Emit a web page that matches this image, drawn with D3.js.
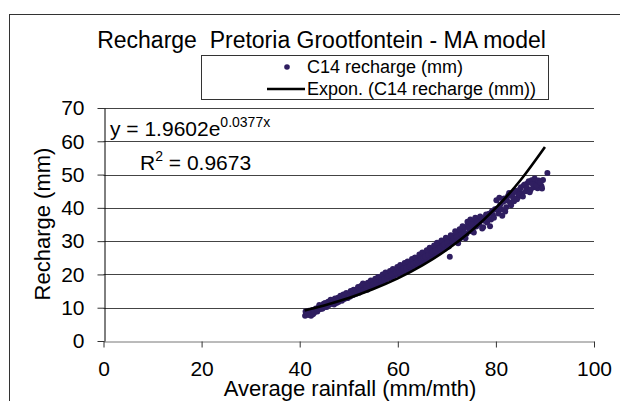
<!DOCTYPE html>
<html>
<head>
<meta charset="utf-8">
<script src="https://cdn.jsdelivr.net/npm/d3@7"></script>
<style>
  body { margin: 0; background: #fff; }
  svg { display: block; font-family: "Liberation Sans", Arial, sans-serif; }
</style>
</head>
<body>
<svg id="chart" width="620" height="401"></svg>
<script>
// C14 recharge points
const rainfall = [
  41.1, 41.3, 41.5, 41.8, 42.0, 42.2, 42.4, 42.6, 42.9, 43.1, 43.3, 43.6, 43.9, 44.2, 44.5, 44.8,
  45.0, 45.3, 45.6, 45.9, 46.2, 46.5, 46.8, 47.0, 47.3, 47.6, 47.9, 48.2, 48.5, 48.8, 49.1, 49.4,
  49.7, 50.0, 50.3, 50.6, 50.9, 51.2, 51.5, 51.8, 52.1, 52.4, 52.7, 52.9, 53.2, 53.5, 53.8, 54.1,
  54.4, 54.7, 55.0, 55.3, 55.6, 55.9, 56.2, 56.5, 56.8, 57.1, 57.4, 57.7, 58.0, 58.3, 58.6, 58.9,
  59.2, 59.5, 59.8, 60.1, 60.4, 60.7, 61.0, 61.3, 61.6, 61.9, 62.2, 62.5, 62.8, 63.1, 63.4, 63.7,
  64.0, 64.3, 64.6, 64.9, 65.2, 65.5, 65.8, 66.1, 66.4, 66.7, 67.0, 67.3, 67.6, 67.9, 68.2, 68.5,
  68.8, 69.1, 69.4, 69.7, 70.0, 70.3, 70.6, 70.9, 71.2, 71.5, 71.8, 72.1, 72.4, 72.7, 73.0, 73.3,
  73.6, 74.0, 74.3, 74.6, 75.0, 75.3, 75.6, 76.0, 76.3, 76.6, 77.0, 77.4, 77.8, 78.2, 78.6, 79.0,
  79.4, 79.8, 80.1, 80.5, 80.9, 81.3, 81.7, 82.1, 82.5, 82.9, 83.3, 83.7, 84.1, 84.5, 84.9, 85.3,
  85.7, 86.1, 86.5, 86.9, 87.3, 87.7, 88.1, 88.5, 88.9, 89.3, 89.6, 90.5,
  41.2, 41.6, 41.9, 42.3, 42.7, 43.0, 43.4, 43.8, 44.0, 44.3, 44.6, 44.9, 45.2, 45.5, 45.8, 46.0,
  46.3, 46.6, 46.9, 47.2, 47.5, 47.8, 48.0, 48.3, 48.6, 48.9, 49.2, 49.5, 49.8, 50.1, 50.4, 50.7,
  51.0, 51.3, 51.6, 51.9, 52.2, 52.5, 52.8, 53.0, 53.3, 53.6, 53.9, 54.2, 54.5, 54.8, 55.1, 55.4,
  55.7, 56.0, 56.3, 56.6, 56.9, 57.2, 57.5, 57.8, 58.1, 58.4, 58.7, 59.0, 59.3, 59.6, 59.9, 60.2,
  60.5, 60.8, 61.1, 61.4, 61.7, 62.0, 62.3, 62.6, 62.9, 63.2, 63.5, 63.8, 64.1, 64.4, 64.7, 65.0,
  65.3, 65.6, 65.9, 66.2, 66.5, 66.8, 67.1, 67.4, 67.7, 68.0, 68.3, 68.6, 68.9, 69.2, 69.5, 69.8,
  70.1, 70.4, 70.8, 71.1, 71.4, 71.7, 72.0, 72.3, 72.6, 72.9, 73.2, 73.5, 73.8, 74.2, 74.5, 74.8,
  75.1, 75.5, 75.8, 76.2, 76.8, 77.2, 77.6, 78.0, 78.4, 78.8, 79.2, 79.6, 80.3, 80.7, 81.1, 81.5,
  81.9, 82.3, 82.7, 83.1, 83.5, 83.9, 84.3, 84.7, 85.1, 85.5, 85.9, 86.3, 86.7, 87.1, 87.5, 87.9,
  88.3, 88.7, 89.1, 89.4
];
const recharge = [
  7.6, 8.2, 7.9, 8.5, 7.8, 8.8, 8.1, 9.3, 8.4, 9.0, 9.8, 8.9, 10.2, 9.6, 10.6, 10.0,
  11.0, 10.4, 11.3, 10.8, 11.9, 11.2, 12.3, 11.0, 12.0, 12.6, 11.7, 12.9, 12.3, 13.4, 12.6, 13.6,
  13.0, 14.1, 13.4, 14.6, 13.8, 15.0, 14.2, 15.6, 14.5, 16.0, 15.1, 17.3, 15.8, 16.6, 15.4, 17.0,
  16.2, 17.6, 16.5, 18.0, 16.9, 18.6, 17.4, 19.0, 17.8, 19.5, 18.2, 20.0, 18.8, 20.4, 19.1, 20.9,
  19.5, 21.3, 20.0, 21.8, 20.3, 22.2, 20.8, 22.7, 21.2, 23.1, 21.6, 23.6, 22.0, 24.0, 22.6, 24.5,
  23.0, 25.0, 23.5, 25.6, 24.0, 26.2, 24.6, 26.7, 25.1, 27.3, 25.6, 27.8, 26.0, 28.3, 26.6, 29.0,
  27.1, 29.4, 27.6, 30.0, 28.2, 30.6, 25.3, 29.2, 31.3, 29.8, 32.0, 30.2, 32.5, 30.8, 33.4, 31.5,
  34.0, 32.2, 35.2, 33.0, 36.0, 33.8, 35.5, 34.4, 36.8, 35.0, 36.3, 34.2, 37.0, 35.6, 38.2, 36.5,
  37.8, 39.6, 42.3, 38.3, 41.0, 37.6, 42.8, 40.2, 43.6, 41.5, 44.2, 42.0, 44.8, 43.2, 45.6, 44.3,
  46.8, 45.0, 47.5, 44.7, 48.3, 46.2, 47.8, 45.9, 47.0, 46.5, 48.4, 50.5,
  8.9, 8.6, 9.1, 7.6, 8.0, 8.7, 9.4, 9.6, 10.8, 10.1, 9.7, 11.2, 11.4, 10.2, 11.8, 10.9,
  12.4, 11.6, 11.8, 12.8, 11.4, 13.0, 12.5, 13.6, 12.1, 14.0, 13.2, 14.4, 12.9, 13.7, 15.0, 13.9,
  15.4, 14.4, 14.9, 16.2, 15.3, 16.5, 16.8, 15.2, 17.0, 16.0, 17.5, 16.4, 18.2, 16.8, 17.2, 18.7,
  17.6, 19.2, 18.0, 18.4, 20.0, 18.6, 20.6, 19.0, 19.6, 21.0, 19.8, 21.6, 20.3, 20.6, 22.2, 20.9,
  22.8, 21.4, 21.8, 23.4, 22.0, 23.9, 22.4, 22.8, 24.6, 23.2, 25.1, 23.6, 24.2, 26.0, 24.5, 26.6,
  25.0, 25.4, 27.3, 25.8, 28.0, 26.3, 26.8, 28.7, 27.2, 29.5, 27.8, 28.0, 30.2, 28.5, 29.0, 31.0,
  29.5, 28.4, 31.8, 30.0, 30.8, 33.0, 31.2, 29.4, 33.6, 32.0, 34.5, 32.6, 30.9, 35.8, 34.2, 36.5,
  35.0, 32.6, 37.0, 35.8, 37.4, 33.8, 36.1, 38.0, 36.8, 34.5, 39.0, 37.0, 39.8, 43.0, 39.5, 41.8,
  38.9, 42.2, 44.5, 40.8, 43.0, 45.2, 42.6, 44.0, 46.2, 43.4, 47.0, 46.0, 48.0, 45.5, 47.2, 48.8,
  46.8, 48.2, 47.6, 45.8
];

// Expon. trend line
const trendRainfall = [41, 45, 50, 55, 60, 65, 70, 75, 80, 85, 90];
const trendRecharge = [9.2, 10.7, 12.9, 15.6, 18.8, 22.7, 27.4, 33.1, 40.0, 48.3, 58.3];

const xTicks = [0, 20, 40, 60, 80, 100];
const yTicks = [0, 10, 20, 30, 40, 50, 60, 70];

const svg = d3.select("#chart");

// chart area border (runs off the right and bottom of the picture)
svg.append("rect")
    .attr("x", 9.5).attr("y", 14.5)
    .attr("width", 700).attr("height", 500)
    .attr("fill", "none").attr("stroke", "#333");

const x = d3.scaleLinear().domain([0, 100]).range([103.5, 594]);
const y = d3.scaleLinear().domain([0, 70]).range([341, 108]);

// gridlines
svg.append("g")
    .selectAll("line")
    .data(yTicks.filter(d => d > 0))
    .enter().append("line")
    .attr("x1", x(0)).attr("x2", x(100))
    .attr("y1", d => Math.round(y(d)) + 0.5)
    .attr("y2", d => Math.round(y(d)) + 0.5)
    .attr("stroke", "#444");

// x axis
const xAxis = svg.append("g")
    .attr("transform", `translate(0,${Math.round(y(0)) + 0.5})`)
    .call(d3.axisBottom(x).tickValues(xTicks).tickSizeInner(6).tickSizeOuter(0).tickPadding(14));
xAxis.select(".domain").attr("stroke", "#777");
xAxis.selectAll(".tick line").attr("stroke", "#333");
xAxis.selectAll("text")
    .attr("font-size", 21).attr("fill", "#000")
    .attr("font-family", "Liberation Sans, Arial, sans-serif");

// y axis
const yAxis = svg.append("g")
    .attr("transform", `translate(${Math.round(x(0)) + 0.5},0)`)
    .call(d3.axisLeft(y).tickValues(yTicks).tickSizeInner(7).tickSizeOuter(0).tickPadding(13));
yAxis.select(".domain").attr("stroke", "#000");
yAxis.selectAll(".tick line").attr("stroke", "#333");
yAxis.selectAll("text")
    .attr("font-size", 21).attr("fill", "#000")
    .attr("font-family", "Liberation Sans, Arial, sans-serif");

// scatter
const pts = rainfall.map((r, i) => [r, recharge[i]]);
svg.append("g")
    .selectAll("circle")
    .data(pts)
    .enter().append("circle")
    .attr("cx", d => x(d[0]))
    .attr("cy", d => y(d[1]))
    .attr("r", 3)
    .attr("fill", "#2f1e60");

// trend line
const trend = trendRainfall.map((r, i) => [r, trendRecharge[i]]);
svg.append("path")
    .datum(trend)
    .attr("fill", "none")
    .attr("stroke", "#000")
    .attr("stroke-width", 2.6)
    .attr("d", d3.line().x(d => x(d[0])).y(d => y(d[1])).curve(d3.curveNatural));

// title
svg.append("text")
    .attr("x", 321.5).attr("y", 48)
    .attr("text-anchor", "middle")
    .attr("font-size", 23)
    .attr("xml:space", "preserve")
    .text("Recharge  Pretoria Grootfontein - MA model");

// legend
const legend = svg.append("g");
legend.append("rect")
    .attr("x", 201.5).attr("y", 55.5)
    .attr("width", 347).attr("height", 44)
    .attr("fill", "#fff").attr("stroke", "#333");
legend.append("circle")
    .attr("cx", 287).attr("cy", 67).attr("r", 2.8).attr("fill", "#2f1e60");
legend.append("text")
    .attr("x", 307).attr("y", 73).attr("font-size", 18)
    .text("C14 recharge (mm)");
legend.append("line")
    .attr("x1", 267).attr("x2", 305).attr("y1", 89).attr("y2", 89)
    .attr("stroke", "#000").attr("stroke-width", 2.6);
legend.append("text")
    .attr("x", 307).attr("y", 95).attr("font-size", 18)
    .text("Expon. (C14 recharge (mm))");

// trend equation and R squared
const eq = svg.append("text").attr("x", 110).attr("y", 136).attr("font-size", 21);
eq.append("tspan").text("y = 1.9602e");
eq.append("tspan").attr("font-size", 14).attr("dy", -9).text("0.0377x");

const r2 = svg.append("text").attr("x", 140).attr("y", 170).attr("font-size", 21);
r2.append("tspan").text("R");
r2.append("tspan").attr("font-size", 14).attr("dy", -9).text("2");
r2.append("tspan").attr("dy", 9).text(" = 0.9673");

// axis titles
svg.append("text")
    .attr("x", 350).attr("y", 396)
    .attr("text-anchor", "middle")
    .attr("font-size", 22)
    .text("Average rainfall (mm/mth)");

svg.append("text")
    .attr("transform", "translate(50,224) rotate(-90)")
    .attr("text-anchor", "middle")
    .attr("font-size", 22)
    .text("Recharge (mm)");
</script>
</body>
</html>
